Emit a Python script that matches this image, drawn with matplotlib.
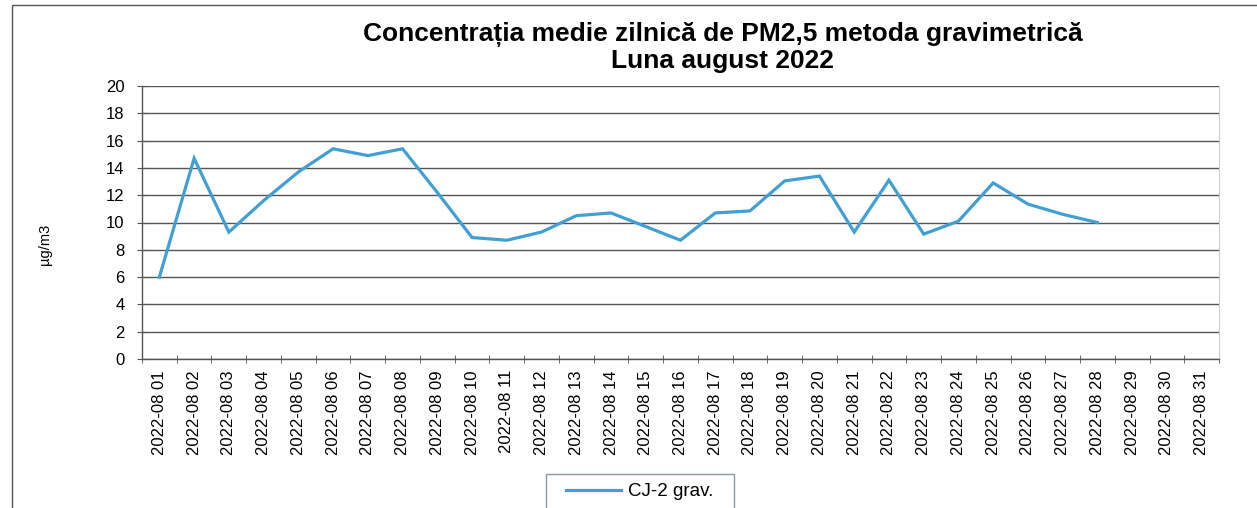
import matplotlib
matplotlib.use("Agg")
import matplotlib.pyplot as plt
import numpy as np
from matplotlib.patches import Rectangle

days = [f"2022-08 {d:02d}" for d in range(1, 32)]
cj2_grav = [6.0, 14.7, 9.3, 11.6, 13.7, 15.4, 14.9, 15.4, 12.2, 8.9,
            8.7, 9.3, 10.5, 10.7, 9.7, 8.7, 10.7, 10.85, 13.05, 13.4,
            9.3, 13.1, 9.15, 10.1, 12.9, 11.35, 10.6, 10.0,
            np.nan, np.nan, np.nan]
yticks = list(range(0, 21, 2))

plt.rcParams['font.family'] = ['Liberation Sans', 'DejaVu Sans']

fig = plt.figure(figsize=(12.57, 5.08), dpi=100)
fig.patch.set_facecolor('white')
ax = fig.add_axes([142/1257, 1-359/508, (1219-142)/1257, (359-86)/508])

x = np.arange(len(days))
ax.plot(x, cj2_grav, color='#419fd4', lw=2.3, label='CJ-2 grav.', solid_joinstyle='miter')

ax.set_xlim(-0.5, len(days) - 0.5)
ax.set_ylim(0, 20)
ax.set_yticks(yticks)
ax.set_yticklabels([str(v) for v in yticks], fontsize=12)
ax.set_xticks(x)
ax.set_xticklabels(days, rotation=90, fontsize=12)
ax.tick_params(axis='x', length=0, pad=8)
ax.set_xticks(np.arange(-0.5, len(days), 1), minor=True)
ax.tick_params(axis='x', which='minor', length=6, direction='inout', color='#555555')
ax.tick_params(axis='y', length=7, direction='inout', color='#555555', pad=9)

ax.grid(axis='y', color='#555555', lw=1.0)
ax.set_axisbelow(True)
for s in ['left', 'bottom']:
    ax.spines[s].set_color('#555555')
    ax.spines[s].set_linewidth(1.0)
ax.spines['top'].set_visible(False)
ax.spines['right'].set_color('#cccccc')

ax.set_ylabel('µg/m3', fontsize=10.5)
ax.yaxis.set_label_coords(-0.084, 0.42)

fig.text(0.575, 0.906, 'Concentrația medie zilnică de PM2,5 metoda gravimetrică\nLuna august 2022',
         ha='center', va='center', fontsize=19, fontweight='bold', linespacing=1.08)

leg = fig.legend(loc='upper center', bbox_to_anchor=(0.509, 0.067), fontsize=13.5,
                 frameon=False, handlelength=2.9,
                 handletextpad=0.4, borderpad=0.5, borderaxespad=0)

fig.canvas.draw()
bb = leg.get_window_extent().transformed(fig.transFigure.inverted())
padx = 11 / 1257
fig.add_artist(Rectangle((bb.x0 - padx, bb.y0), bb.width + 2 * padx, bb.height,
                         transform=fig.transFigure, fill=False,
                         edgecolor='#8899aa', lw=1.0))

fig.add_artist(Rectangle((12/1257, -0.1), 1.5, 1.09, transform=fig.transFigure,
                         fill=False, edgecolor='#555555', lw=1.0))

fig.savefig('out.png', dpi=100, facecolor='white')
